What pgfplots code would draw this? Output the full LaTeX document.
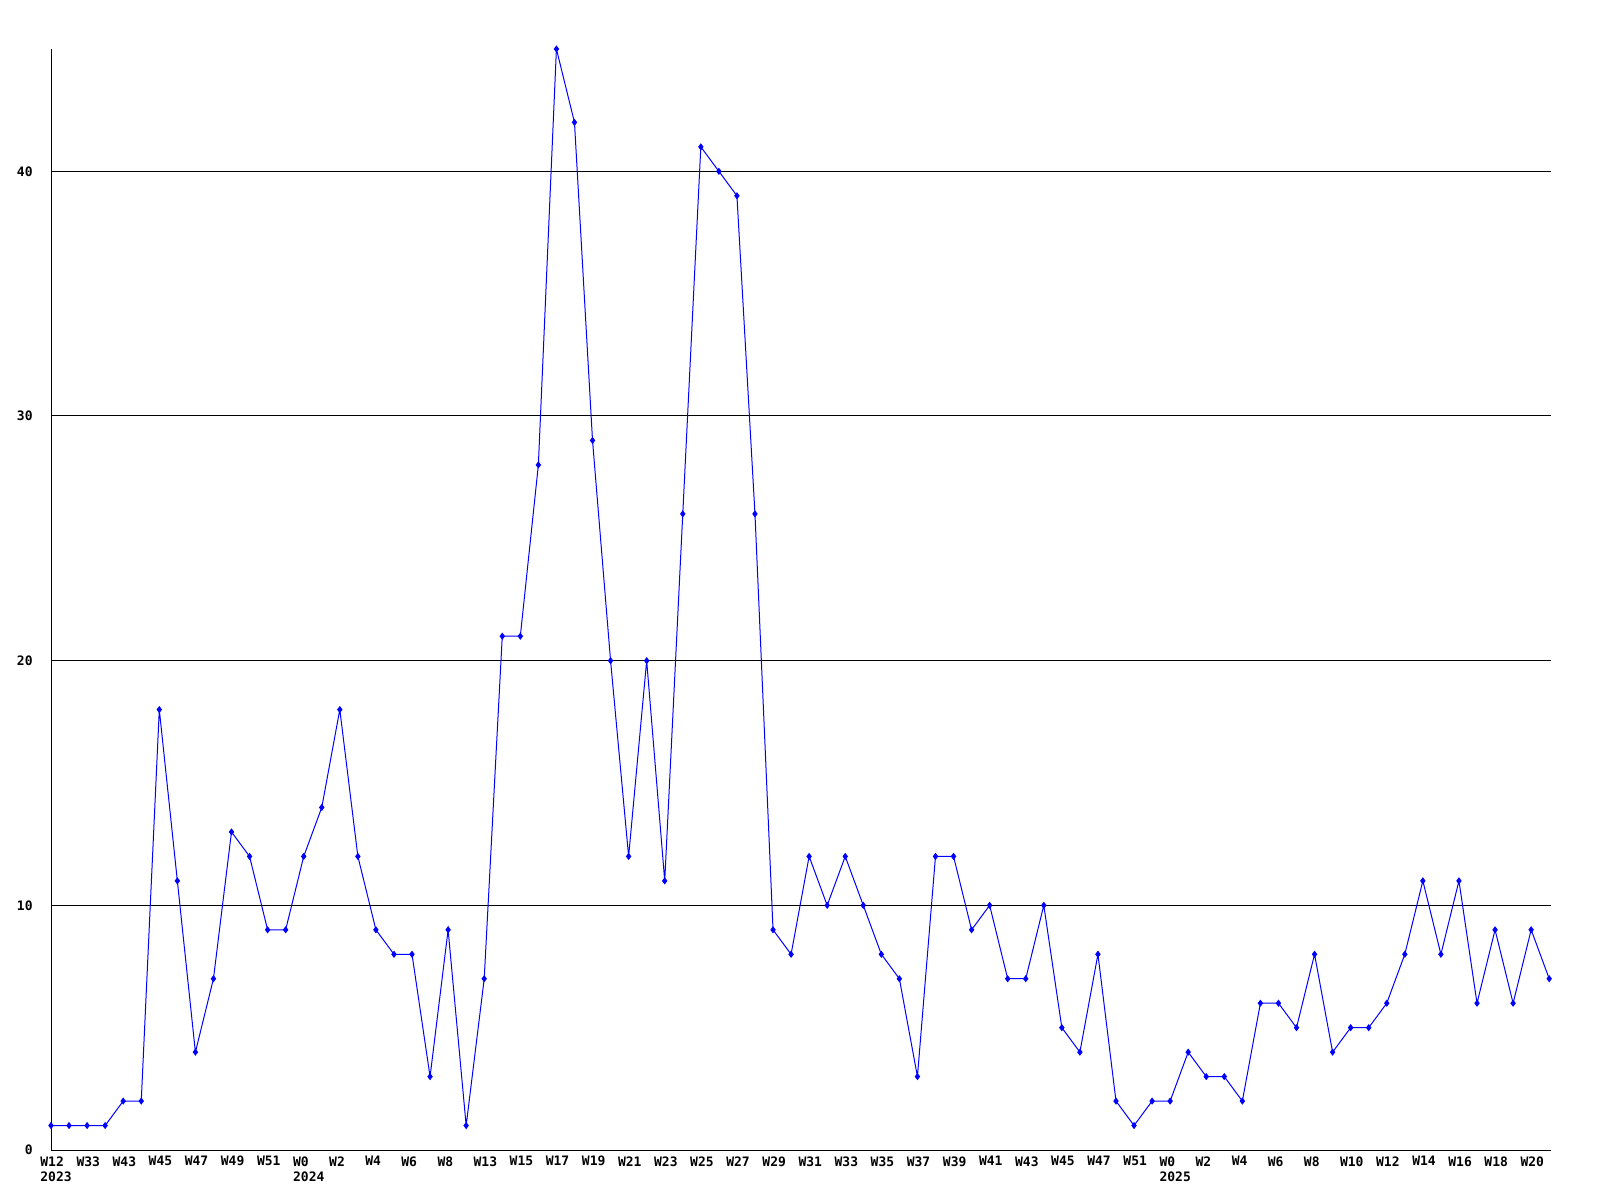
\documentclass[border=0pt]{standalone}
\usepackage{pgfplots}
\pgfplotsset{compat=1.18}
\usepackage{fontspec}
\newfontfamily\pix{DejaVu Sans Mono}
\begin{document}
\begin{tikzpicture}
\path[use as bounding box] (-25.5pt,-25pt) rectangle (774.5pt,575pt);
\begin{axis}[
  at={(0pt,0pt)}, anchor=south west,
  scale only axis, width=750pt, height=550.5pt,
  xmin=0, xmax=83.1, ymin=0, ymax=45,
  axis x line=bottom, axis y line=left,
  axis line style={-, black, line width=0.5pt},
  ytick={0,10,20,30,40},
  ymajorgrids, major grid style={black, line width=0.5pt},
  major tick length=0pt,
  xtick={0,2,...,82},
  xticklabels={{W12\\2023},W33,W43,W45,W47,W49,W51,{W0\\2024},W2,W4,W6,W8,W13,W15,W17,W19,W21,W23,W25,W27,W29,W31,W33,W35,W37,W39,W41,W43,W45,W47,W51,{W0\\2025},W2,W4,W6,W8,W10,W12,W14,W16,W18,W20},
  /pgf/number format/assume math mode=true,
  tick label style={font=\pix\bfseries\fontsize{6.5}{7.7}\selectfont, inner sep=0pt},
  xticklabel style={anchor=north west, align=left, xshift=-5.5pt, yshift=-3pt},
  yticklabel style={anchor=east, xshift=-9pt},
  clip=false,
]
\addplot[color={rgb,255:red,0;green,0;blue,255}, line width=0.5pt, mark=diamond*, mark size=1.4pt] table {
x y
0 1
1 1
2 1
3 1
4 2
5 2
6 18
7 11
8 4
9 7
10 13
11 12
12 9
13 9
14 12
15 14
16 18
17 12
18 9
19 8
20 8
21 3
22 9
23 1
24 7
25 21
26 21
27 28
28 45
29 42
30 29
31 20
32 12
33 20
34 11
35 26
36 41
37 40
38 39
39 26
40 9
41 8
42 12
43 10
44 12
45 10
46 8
47 7
48 3
49 12
50 12
51 9
52 10
53 7
54 7
55 10
56 5
57 4
58 8
59 2
60 1
61 2
62 2
63 4
64 3
65 3
66 2
67 6
68 6
69 5
70 8
71 4
72 5
73 5
74 6
75 8
76 11
77 8
78 11
79 6
80 9
81 6
82 9
83 7
};
\end{axis}
\end{tikzpicture}
\end{document}
